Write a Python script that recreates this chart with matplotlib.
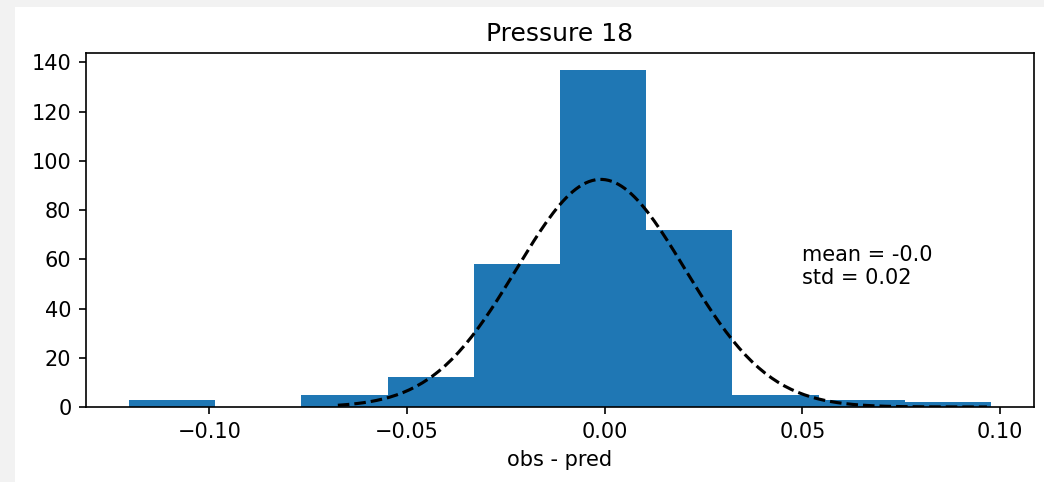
import numpy as np
import matplotlib
matplotlib.use("Agg")
import matplotlib.pyplot as plt
from matplotlib.patches import Rectangle

# histogram of residuals
bin_lo = -0.1203
bin_hi = 0.0977
counts = [3, 0, 5, 12, 58, 137, 72, 5, 3, 2]

# fitted normal curve
fit_mean = -0.001
fit_std = 0.0213
fit_peak = 92.5
fit_x_lo = -0.0675
fit_x_hi = 0.0967

title = "Pressure 18"
stats_text = "mean = -0.0\nstd = 0.02"

fig = plt.figure(figsize=(1044 / 150, 482 / 150), dpi=150, facecolor="#f2f2f2")
# white canvas inside the grey screenshot border
fig.patches.append(Rectangle((15 / 1044, 0), 1, 1 - 7 / 482, transform=fig.transFigure,
                             facecolor="white", edgecolor="none", zorder=-1))
ax = fig.add_subplot(1, 1, 1)
plt.subplots_adjust(left=0.0824, right=0.9904, top=0.890, bottom=0.1556)

edges = np.linspace(bin_lo, bin_hi, len(counts) + 1)
centers = (edges[:-1] + edges[1:]) / 2
ax.hist(centers, bins=edges, weights=counts, color="#1f77b4")

xs = np.linspace(fit_x_lo, fit_x_hi, 200)
ys = fit_peak * np.exp(-0.5 * ((xs - fit_mean) / fit_std) ** 2)
ax.plot(xs, ys, "k--", lw=1.5)

ax.text(0.05, 50, stats_text)
ax.set_title(title)
ax.set_xlabel("obs - pred")

fig.savefig("out.png", dpi=150)
